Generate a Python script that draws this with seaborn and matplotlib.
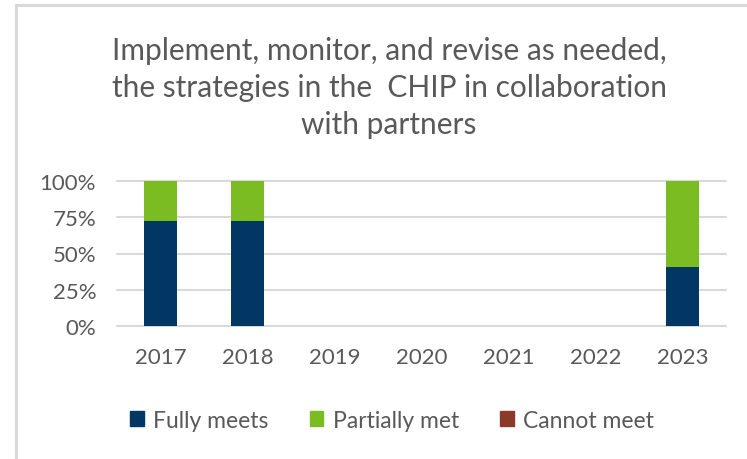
import matplotlib
matplotlib.use("Agg")
import matplotlib.pyplot as plt
import seaborn as sns
import pandas as pd
from matplotlib.patches import Rectangle
from matplotlib.lines import Line2D
from matplotlib.ticker import FixedLocator

years = ["2017", "2018", "2019", "2020", "2021", "2022", "2023"]
fully_meets = [0.725, 0.725, 0, 0, 0, 0, 0.41]
partially_met = [0.275, 0.275, 0, 0, 0, 0, 0.59]
cannot_meet = [0, 0, 0, 0, 0, 0, 0]
series_names = ["Fully meets", "Partially met", "Cannot meet"]
colors = ["#023763", "#7BBC22", "#8B3A2A"]
yticks = [0, 0.25, 0.5, 0.75, 1.0]
ytick_labels = ["0%", "25%", "50%", "75%", "100%"]
title = "Implement, monitor, and revise as needed,\nthe strategies in the  CHIP in collaboration\nwith partners"

sns.set_theme(style="white")
plt.rcParams["font.family"] = ["Lato", "DejaVu Sans"]

df = pd.DataFrame({"year": years, "fully": fully_meets,
                   "partial": partially_met, "cannot": cannot_meet})

W, H = 747, 460
fig = plt.figure(figsize=(W / 100, H / 100), dpi=100)
# partial chart frame (top and left edges visible)
fig.add_artist(Line2D([15.5 / W, 1.0], [1 - 5.5 / H, 1 - 5.5 / H], transform=fig.transFigure,
                      color="#d9d9d9", linewidth=2.2))
fig.add_artist(Line2D([15.5 / W, 15.5 / W], [0, 1 - 5.5 / H], transform=fig.transFigure,
                      color="#d9d9d9", linewidth=2.2))

ax = fig.add_axes([117 / W, 1 - 327 / H, (726 - 117) / W, (327 - 182) / H])

width = 0.39
kw = dict(width=width, ax=ax, saturation=1, zorder=3, linewidth=0)
sns.barplot(data=df, x="year", y="fully", color=colors[0], **kw)
sns.barplot(data=df, x="year", y="partial", color=colors[1], bottom=df["fully"], **kw)
sns.barplot(data=df, x="year", y="cannot", color=colors[2],
            bottom=df["fully"] + df["partial"], **kw)

ax.set_ylim(0, 1.0)
ax.set_xlim(-0.5, 6.5)
ax.yaxis.set_major_locator(FixedLocator(yticks))
ax.set_yticklabels(ytick_labels)
ax.set_xlabel("")
ax.set_ylabel("")
for y in yticks:
    ax.axhline(y, color="#d9d9d9", linewidth=1.5, zorder=1, clip_on=False)
for s in ax.spines.values():
    s.set_visible(False)
ax.tick_params(axis="both", length=0, labelsize=16, colors="#595959")
ax.tick_params(axis="x", pad=15)
ax.tick_params(axis="y", pad=15)

fig.text(389 / W, 1 - 88 / H, title, ha="center", va="center", fontsize=21.5,
         color="#595959", linespacing=1.38)

handles = [Rectangle((0, 0), 1, 1, color=c) for c in colors]
fig.legend(handles, series_names, loc="center", bbox_to_anchor=(392 / W, 1 - 421 / H),
           ncol=3, frameon=False, fontsize=16.5, labelcolor="#595959",
           handlelength=0.6, handleheight=0.6, handletextpad=0.4, columnspacing=1.8)

fig.savefig("out.png", dpi=100)
